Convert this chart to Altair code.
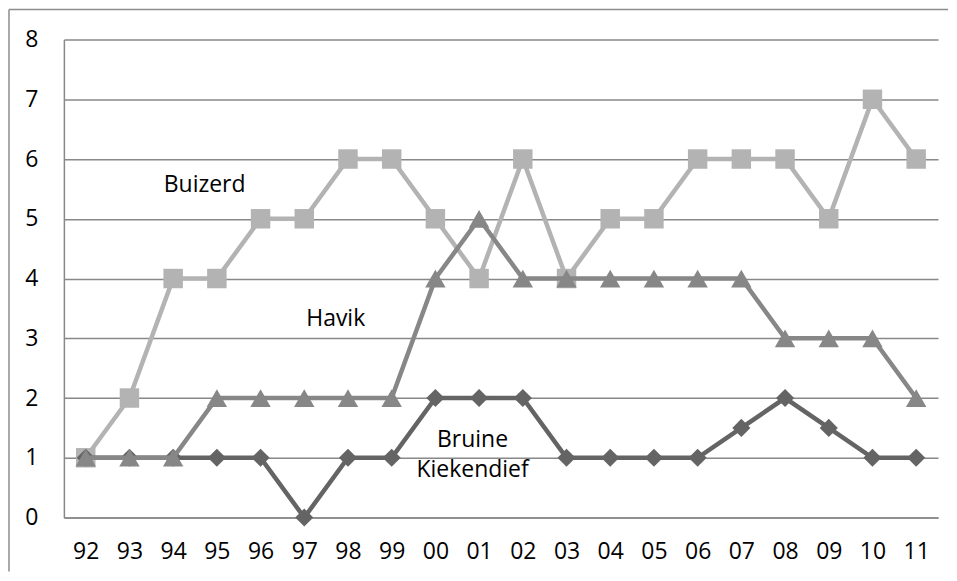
import altair as alt
import pandas as pd

years = ["92", "93", "94", "95", "96", "97", "98", "99", "00", "01",
         "02", "03", "04", "05", "06", "07", "08", "09", "10", "11"]
buizerd = [1, 2, 4, 4, 5, 5, 6, 6, 5, 4, 6, 4, 5, 5, 6, 6, 6, 5, 7, 6]
havik = [1, 1, 1, 2, 2, 2, 2, 2, 4, 5, 4, 4, 4, 4, 4, 4, 3, 3, 3, 2]
kiekendief = [1, 1, 1, 1, 1, 0, 1, 1, 2, 2, 2, 1, 1, 1, 1, 1.5, 2, 1.5, 1, 1]

series_names = ["Buizerd", "Bruine Kiekendief", "Havik"]
series_values = [buizerd, kiekendief, havik]
series_colors = ["#b3b3b3", "#646464", "#878787"]
series_shapes = ["square", "diamond", "triangle-up"]
series_sizes = [380, 330, 420]

label_texts = ["Buizerd", "Havik", "Bruine", "Kiekendief"]
label_x = [2.72, 5.72, 8.85, 8.85]
label_y = [5.56, 3.32, 1.30, 0.80]

FONT = "Open Sans"
FS = 23

rows = []
for name, vals in zip(series_names, series_values):
    for i, v in enumerate(vals):
        rows.append({"idx": i, "year": years[i], "value": v, "series": name})
df = pd.DataFrame(rows)

labels_df = pd.DataFrame({"text": label_texts, "x": label_x, "y": label_y})

x_scale = alt.Scale(domain=[-0.5, 19.5], nice=False, zero=False)
y_scale = alt.Scale(domain=[0, 8], nice=False)

label_expr = "[" + ",".join("'%s'" % y for y in years) + "][datum.value]"

x_axis = alt.Axis(values=list(range(len(years))), labelExpr=label_expr, title=None,
                  ticks=False, grid=False, domain=True, domainColor="#888888",
                  domainWidth=1.5, labelFont=FONT, labelFontSize=FS, labelColor="#000000",
                  labelPadding=23, labelFlush=False, labelOverlap=False)
y_axis = alt.Axis(values=list(range(9)), title=None, ticks=False, grid=True,
                  gridColor="#888888", gridWidth=1.5, domain=True, domainColor="#888888",
                  domainWidth=1.5, labelFont=FONT, labelFontSize=FS, labelColor="#000000",
                  labelPadding=26, minExtent=55, maxExtent=55)

X = alt.X("idx:Q", scale=x_scale, axis=x_axis)
Y = alt.Y("value:Q", scale=y_scale, axis=y_axis)

layers = []
# frame lines (top and left border of the chart box)
layers.append(alt.Chart(pd.DataFrame({"a": [0]})).mark_rule(color="#8c8c8c", strokeWidth=1.5).encode(
    x=alt.value(-55), x2=alt.value(886), y=alt.value(-30)))
layers.append(alt.Chart(pd.DataFrame({"a": [0]})).mark_rule(color="#8c8c8c", strokeWidth=1.5).encode(
    x=alt.value(-55), y=alt.value(-30), y2=alt.value(533)))

for name, color, shape, size in zip(series_names, series_colors, series_shapes, series_sizes):
    sub = df[df.series == name]
    base = alt.Chart(sub)
    line = base.mark_line(color=color, strokeWidth=4.5).encode(x=X, y=Y)
    pts = base.mark_point(shape=shape, filled=True, color=color, opacity=1, size=size).encode(x=X, y=Y)
    layers += [line, pts]

texts = alt.Chart(labels_df).mark_text(font=FONT, fontSize=FS, color="#000000",
                                       align="center", baseline="middle").encode(
    x=alt.X("x:Q", scale=x_scale, axis=x_axis), y=alt.Y("y:Q", scale=y_scale, axis=y_axis),
    text="text:N")
layers.append(texts)

chart = alt.layer(*layers).properties(
    width=876, height=479,
    padding={"left": 0, "top": 0, "right": 0, "bottom": 0},
    background="#ffffff",
).configure_view(stroke=None)

chart.save("out.html", embed_options={"renderer": "svg", "actions": False})
